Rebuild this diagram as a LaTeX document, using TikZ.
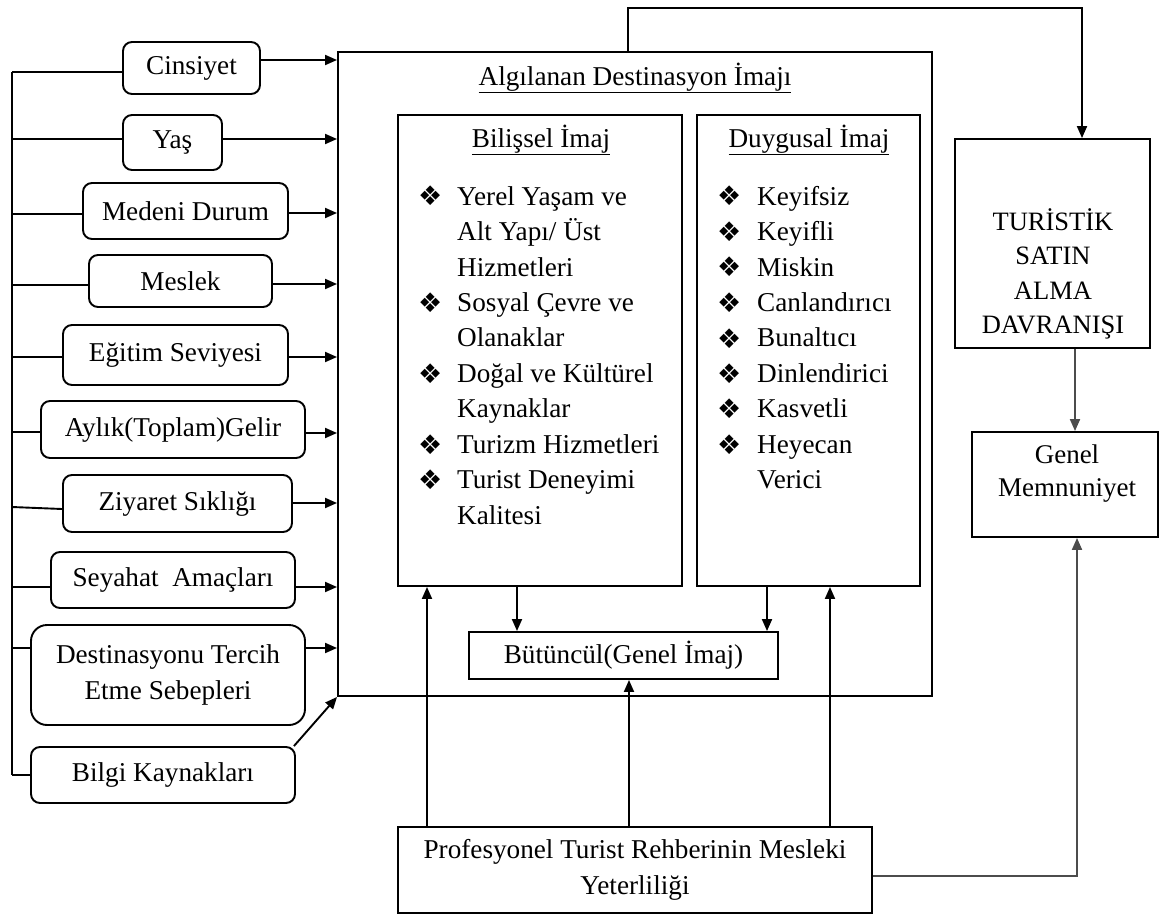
\documentclass[tikz,border=0pt]{standalone}
\usepackage{fontspec}
\setmainfont{Liberation Serif}
\newfontfamily\dingfont{DejaVu Sans}
\usetikzlibrary{arrows.meta}
\newcommand\dbul{{\dingfont\fontsize{27}{27}\selectfont\raisebox{-1pt}{❖}}}

\begin{document}
\begin{tikzpicture}[x=1pt,y=-1pt,
  every node/.style={font=\fontsize{27.2}{35.5}\selectfont},
  box/.style={draw,line width=1.9pt,inner sep=0pt,align=center},
  rbox/.style={box,rounded corners=9pt},
  ln/.style={line width=1.9pt},
  arr/.style={line width=1.9pt,-{Triangle[length=12pt,width=10pt]}},
  soft/.style={draw=black!70}]
\useasboundingbox (0,0) rectangle (1160,915);

% factor boxes on the left
\node[rbox,minimum width=137pt,minimum height=52pt] (cins) at (191.5,68) {Cinsiyet};
\node[rbox,minimum width=99pt,minimum height=55pt] (yas) at (172.5,142.5) {Yaş};
\node[rbox,minimum width=205pt,minimum height=56pt] (med) at (185.5,211) {Medeni Durum};
\node[rbox,minimum width=183pt,minimum height=52pt] (mes) at (180.5,281) {Meslek};
\node[rbox,minimum width=225pt,minimum height=60pt] (egi) at (175.5,355) {Eğitim Seviyesi};
\node[rbox,minimum width=264pt,minimum height=57pt] (ayl) at (173,429.5) {Aylık(Toplam)Gelir};
\node[rbox,minimum width=229pt,minimum height=57pt] (ziy) at (177.5,503.5) {Ziyaret Sıklığı};
\node[rbox,minimum width=244pt,minimum height=56pt] (sey) at (173,580) {Seyahat\ \ Amaçları};
\node[rbox,rounded corners=16pt,minimum width=274pt,minimum height=100pt] (des) at (168,675) {Destinasyonu Tercih\\Etme Sebepleri};
\node[rbox,minimum width=264pt,minimum height=56pt] (bil) at (163,775) {Bilgi Kaynakları};

% perceived image frame
\node[box,minimum width=594pt,minimum height=644pt] (main) at (635,374) {};
\node (ttl) at (635,78) {\underline{Algılanan Destinasyon İmajı}};
\node[box,minimum width=284pt,minimum height=471pt] (bis) at (540,350.5) {};
\node[box,minimum width=223pt,minimum height=471pt] (duy) at (808.5,350.5) {};
\node (bist) at (541,140) {\underline{Bilişsel İmaj}};
\node (duyt) at (809,140) {\underline{Duygusal İmaj}};

\node[anchor=base west,inner sep=0pt] (bisl) at (418,205) {%
\begin{tabular}[t]{@{}p{39pt}@{}l@{}}
\dbul & Yerel Yaşam ve\\
      & Alt Yapı/ Üst\\
      & Hizmetleri\\
\dbul & Sosyal Çevre ve\\
      & Olanaklar\\
\dbul & Doğal ve Kültürel\\
      & Kaynaklar\\
\dbul & Turizm Hizmetleri\\
\dbul & Turist Deneyimi\\
      & Kalitesi
\end{tabular}};

\node[anchor=base west,inner sep=0pt] (duyl) at (717,205) {%
\begin{tabular}[t]{@{}p{40pt}@{}l@{}}
\dbul & Keyifsiz\\
\dbul & Keyifli\\
\dbul & Miskin\\
\dbul & Canlandırıcı\\
\dbul & Bunaltıcı\\
\dbul & Dinlendirici\\
\dbul & Kasvetli\\
\dbul & Heyecan\\
      & Verici
\end{tabular}};

\node[box,minimum width=309pt,minimum height=47pt] (but) at (623.5,655.5) {Bütüncül(Genel İmaj)};
\node[box,minimum width=474pt,minimum height=86pt] (pro) at (635,870) {Profesyonel Turist Rehberinin Mesleki\\Yeterliliği};

% outcome boxes on the right
\node[box,minimum width=195pt,minimum height=209pt] (tur) at (1052.5,243.5) {};
\node[align=center,font=\fontsize{26.5}{34.5}\selectfont] (turt) at (1053,274) {TURİSTİK\\SATIN\\ALMA\\DAVRANIŞI};
\node[box,minimum width=186pt,minimum height=105pt] (gen) at (1065,484.5) {};
\node[align=center,font=\fontsize{27}{33}\selectfont] (gent) at (1067,474) {Genel\\Memnuniyet};

% spine feeding the factor boxes
\draw[ln] (12,72) -- (12,775);
\draw[ln] (12,72) -- (cins.west |- 0,72);
\draw[ln] (12,139) -- (yas.west |- 0,139);
\draw[ln] (12,214) -- (med.west |- 0,214);
\draw[ln] (12,285) -- (mes.west |- 0,285);
\draw[ln] (12,357) -- (egi.west |- 0,357);
\draw[ln] (12,432) -- (ayl.west |- 0,432);
\draw[ln] (12,507) -- (ziy.west |- 0,509);
\draw[ln] (12,587) -- (sey.west |- 0,587);
\draw[ln] (12,648) -- (des.west |- 0,648);
\draw[ln] (12,775) -- (bil.west);

% factors into the image frame
\draw[arr] (cins.east |- 0,60) -- (main.west |- 0,60);
\draw[arr] (yas.east |- 0,139) -- (main.west |- 0,139);
\draw[arr] (med.east |- 0,213) -- (main.west |- 0,213);
\draw[arr] (mes.east |- 0,284) -- (main.west |- 0,284);
\draw[arr] (egi.east |- 0,357) -- (main.west |- 0,357);
\draw[arr] (ayl.east |- 0,433) -- (main.west |- 0,433);
\draw[arr] (ziy.east |- 0,503) -- (main.west |- 0,503);
\draw[arr] (sey.east |- 0,587) -- (main.west |- 0,587);
\draw[arr] (des.east |- 0,648) -- (main.west |- 0,648);
\draw[arr] ([xshift=-2pt]bil.north east) -- (main.south west);

% inside the frame
\draw[arr] (bis.south -| 517,0) -- (but.north -| 517,0);
\draw[arr] (duy.south -| 767,0) -- (but.north -| 767,0);
\draw[arr] (pro.north -| 427,0) -- (bis.south -| 427,0);
\draw[arr] (pro.north -| 629,0) -- (but.south -| 629,0);
\draw[arr] (pro.north -| 830,0) -- (duy.south -| 830,0);

% towards behaviour and satisfaction
\draw[arr] (main.north -| 628,0) -- (628,8) -- (1082,8) -- (tur.north -| 1082,0);
\draw[arr,soft] (tur.south -| 1075,0) -- (gen.north -| 1075,0);
\draw[arr,soft] (pro.east |- 0,876) -- (1077,876) -- (gen.south -| 1077,0);
\end{tikzpicture}
\end{document}
